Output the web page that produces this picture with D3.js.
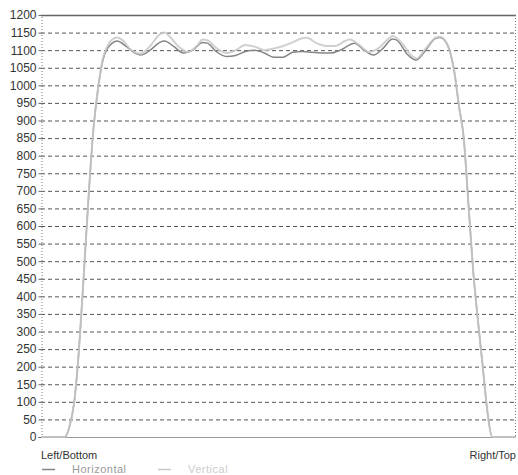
<!DOCTYPE html>
<html>
<head>
<meta charset="utf-8">
<script src="https://cdn.jsdelivr.net/npm/d3@7"></script>
<style>
  body { margin: 0; background: #fff; }
  text { font-family: "Liberation Sans", Arial, sans-serif; }
</style>
</head>
<body>
<script>
var w = 518;
var h = 475;

// position along the profile, 0 = Left/Bottom, 100 = Right/Top
var hPos = [0, 4, 5, 6, 7, 8, 9, 10, 11, 12, 13, 14, 15, 16, 18, 20, 21, 23, 25, 26, 28, 30, 32, 34, 35, 37, 39, 41, 43, 45, 47, 49, 51, 53, 55, 57, 59, 61, 63, 65, 66, 68, 70, 72, 74, 75, 77, 79, 81, 83, 84, 85, 86, 87, 88, 89, 90, 91, 92, 93, 94, 95, 100];
var horizontal = [0, 0, 0, 30, 100, 250, 460, 680, 870, 990, 1070, 1105, 1120, 1126, 1110, 1090, 1086, 1100, 1122, 1126, 1110, 1092, 1100, 1122, 1120, 1095, 1082, 1085, 1096, 1100, 1092, 1080, 1080, 1094, 1096, 1094, 1092, 1092, 1100, 1115, 1120, 1100, 1086, 1105, 1132, 1128, 1090, 1072, 1100, 1133, 1136, 1128, 1100, 1040, 940, 850, 660, 470, 330, 200, 70, 0, 0];

var vPos = [0, 4, 5, 6, 7, 8, 9, 10, 11, 12, 13, 14, 15, 16, 17, 19, 21, 23, 25, 26, 27, 29, 31, 33, 34, 35, 37, 39, 41, 43, 45, 47, 49, 51, 53, 55, 56, 58, 60, 62, 64, 65, 67, 69, 71, 73, 74, 76, 78, 79, 81, 83, 84, 85, 86, 87, 88, 89, 90, 91, 92, 93, 94, 95, 100];
var vertical = [0, 0, 0, 30, 100, 250, 460, 680, 870, 990, 1075, 1112, 1130, 1136, 1130, 1100, 1090, 1112, 1145, 1150, 1140, 1110, 1095, 1115, 1130, 1128, 1105, 1092, 1100, 1115, 1110, 1100, 1105, 1112, 1122, 1134, 1135, 1120, 1112, 1112, 1126, 1130, 1115, 1095, 1105, 1130, 1140, 1120, 1085, 1076, 1105, 1135, 1138, 1128, 1100, 1040, 940, 850, 660, 470, 330, 200, 70, 0, 0];

var yTicks = d3.range(0, 1201, 50);

var svg = d3.select('body').append('svg')
    .attr('width', w)
    .attr('height', h);

var x = d3.scaleLinear().domain([0, 100]).range([41, 516]);
var y = d3.scaleLinear().domain([0, 1200]).range([437, 15]);

// grid
svg.selectAll('line.grid').data(yTicks.filter(function(d){ return d > 0 && d < 1200; }))
  .enter().append('line')
    .attr('class', 'grid')
    .attr('x1', x(0)).attr('x2', x(100))
    .attr('y1', function(d){ return y(d) + 0.5; })
    .attr('y2', function(d){ return y(d) + 0.5; })
    .attr('stroke', '#555')
    .attr('stroke-dasharray', '4,3');

// frame
svg.append('line').attr('x1', x(0)).attr('x2', x(100)).attr('y1', y(1200) + 0.5).attr('y2', y(1200) + 0.5)
  .attr('stroke', '#666').attr('stroke-width', 1.5);
svg.append('line').attr('x1', x(0)).attr('x2', x(100)).attr('y1', y(0) + 0.5).attr('y2', y(0) + 0.5)
  .attr('stroke', '#999');
svg.append('line').attr('x1', x(100) - 0.5).attr('x2', x(100) - 0.5).attr('y1', y(1200)).attr('y2', y(0))
  .attr('stroke', '#777').attr('stroke-dasharray', '1,2');

// y axis
var yAxis = d3.axisLeft(y).tickValues(yTicks).tickFormat(d3.format('d')).tickSize(3).tickPadding(2);
var ax = svg.append('g').attr('transform', 'translate(' + (x(0) + 0.5) + ',0)').call(yAxis);
ax.select('.domain').attr('stroke', '#777').attr('stroke-dasharray', '1,2');
ax.selectAll('.tick line').attr('stroke', '#666');
ax.selectAll('.tick text').attr('fill', '#333').style('font-size', '12px')
  .style('font-family', '"Liberation Sans", Arial, sans-serif');

var line = d3.line()
  .x(function(d){ return x(d[0]); })
  .y(function(d){ return y(d[1]); })
  .curve(d3.curveMonotoneX);

svg.append('path')
  .datum(hPos.map(function(p, i){ return [p, horizontal[i]]; }))
  .attr('d', line)
  .attr('fill', 'none')
  .attr('stroke', '#858585')
  .attr('stroke-width', 1.5);

svg.append('path')
  .datum(vPos.map(function(p, i){ return [p, vertical[i]]; }))
  .attr('d', line)
  .attr('fill', 'none')
  .attr('stroke', '#c8c8c8')
  .attr('stroke-opacity', 0.85)
  .attr('stroke-width', 2);

// end labels
svg.append('text').attr('x', x(0)).attr('y', 459).text('Left/Bottom')
  .attr('fill', '#333').style('font-size', '11px');
svg.append('text').attr('x', x(100)).attr('y', 459).attr('text-anchor', 'end').text('Right/Top')
  .attr('fill', '#333').style('font-size', '11px');

// legend
var legend = [['Horizontal', '#858585', '#999', 42], ['Vertical', '#c8c8c8', '#ccc', 158]];
legend.forEach(function(l){
  svg.append('line').attr('x1', l[3]).attr('x2', l[3] + 13).attr('y1', 469.5).attr('y2', 469.5)
    .attr('stroke', l[1]).attr('stroke-width', 1.5);
  svg.append('text').attr('x', l[3] + 30).attr('y', 473).text(l[0])
    .attr('fill', l[2]).style('font-size', '11px').style('letter-spacing', '0.5px');
});
</script>
</body>
</html>
